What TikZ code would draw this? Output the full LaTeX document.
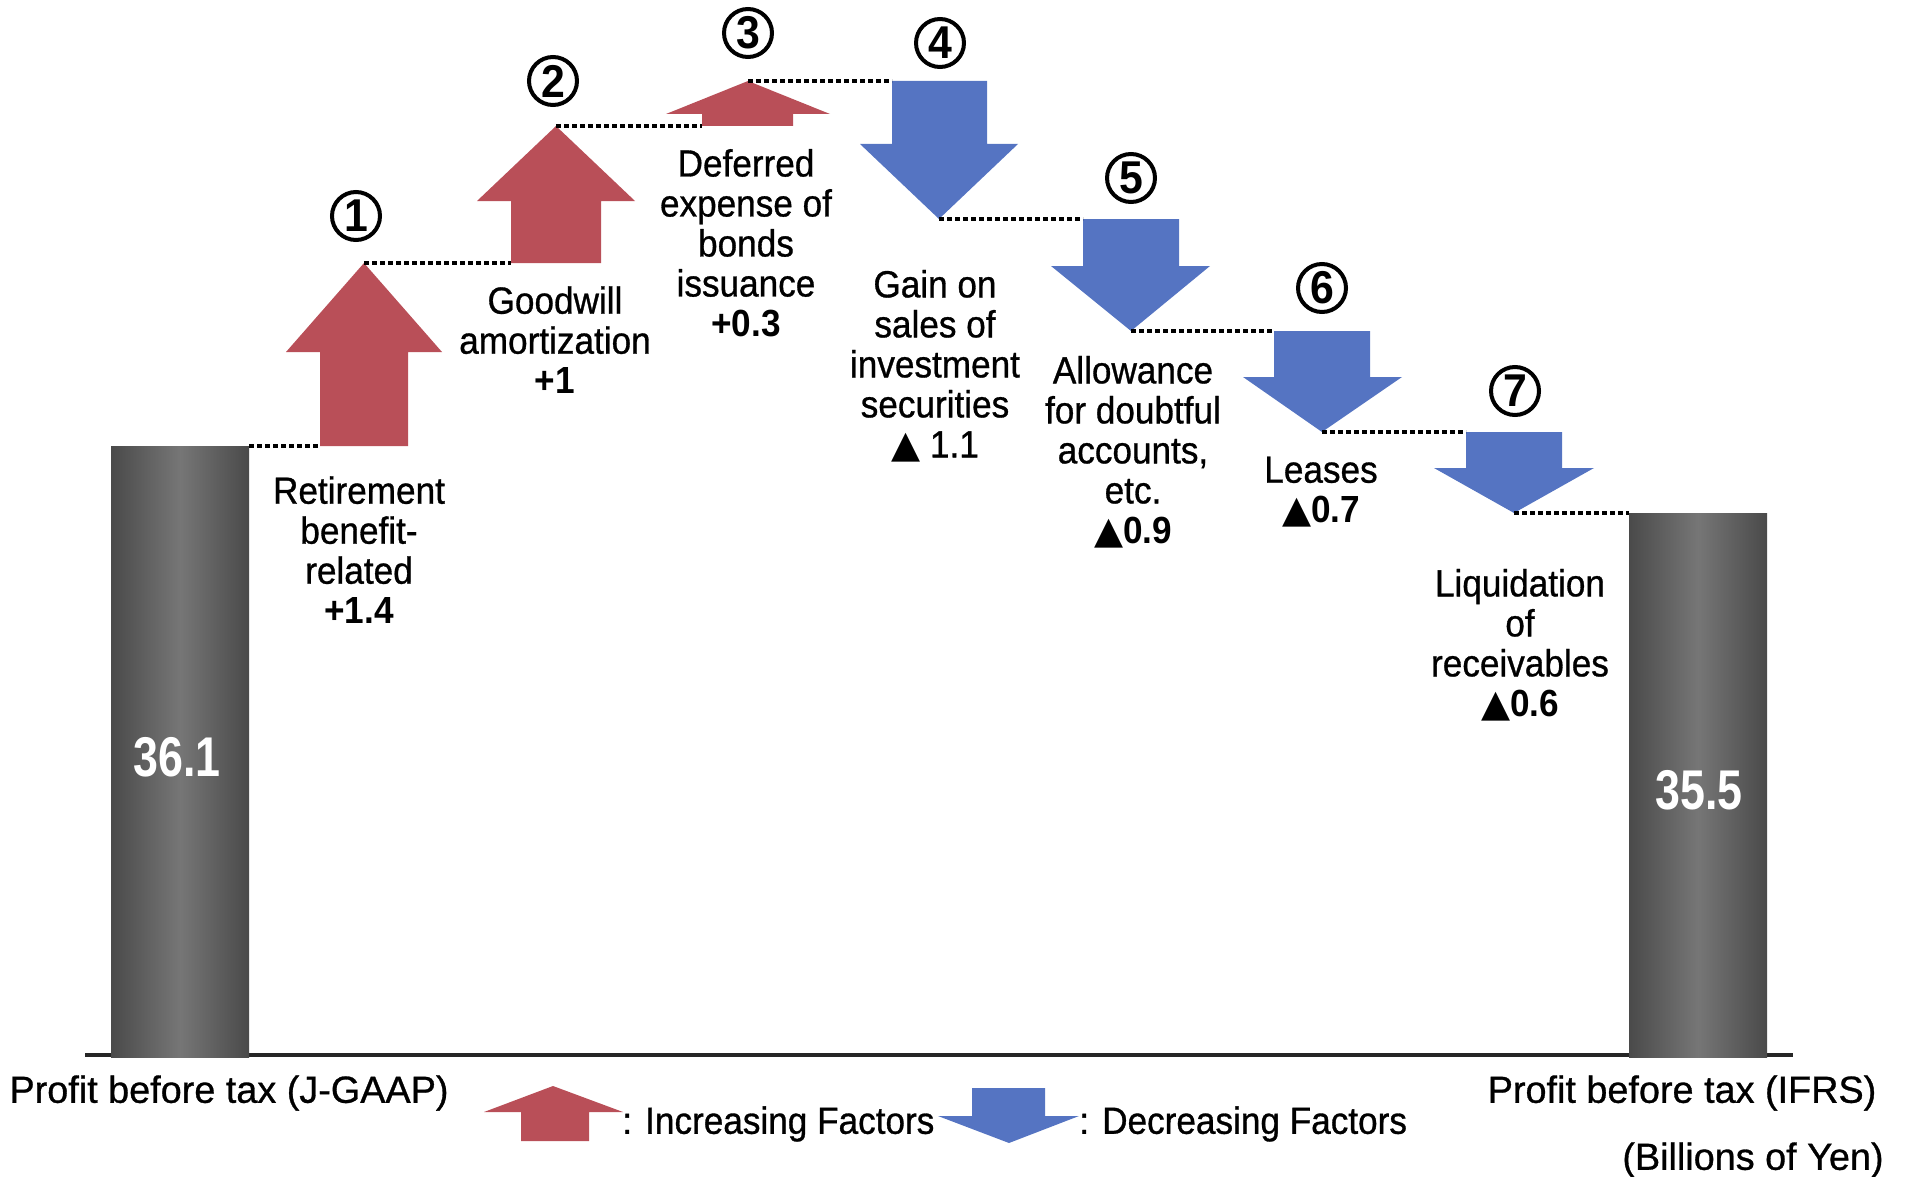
\documentclass[tikz,border=0pt]{standalone}
\usepackage{fontspec}
\setmainfont{Liberation Sans}[FakeStretch=0.93,UprightFeatures={FakeBold=0.8}]
\newfontfamily\barnumfont{Liberation Sans}[FakeStretch=0.8]
\newfontfamily\captionfont{Liberation Sans}[UprightFeatures={FakeBold=0.8}]
\newfontfamily\symfont{DejaVu Sans}
\newcommand{\tri}{{\symfont ▲}}
\usepackage{tikz}

\definecolor{incRed}{RGB}{185,79,88}
\definecolor{decBlue}{RGB}{85,116,194}
\definecolor{barDark}{RGB}{74,74,74}
\definecolor{barLight}{RGB}{118,118,118}
\definecolor{axisGray}{RGB}{38,38,38}

\begin{document}
\begin{tikzpicture}[x=0.5pt,y=0.5pt,yscale=-1,xscale=1,
  incr/.style={fill=incRed,draw=none},
  decr/.style={fill=decBlue,draw=none},
  level/.style={black,line width=1.8pt,dash pattern=on 2.4pt off 1.6pt},
  factor/.style={align=center,inner sep=0pt,font=\fontsize{18.9}{20}\selectfont},
  caption/.style={inner sep=0pt,font=\captionfont\fontsize{18.9}{20}\selectfont},
  stepnum/.style={circle,draw,line width=2pt,minimum size=24pt,inner sep=0pt,font=\bfseries\fontsize{23}{23}\selectfont},
  total/.style={left color=barDark,right color=barDark,middle color=barLight},
  totalnum/.style={text=white,inner sep=0pt,font=\barnumfont\bfseries\fontsize{28}{28}\selectfont}]
\useasboundingbox (0,0) rectangle (1906,1177);

%Axis line
\draw [color=axisGray,line width=2pt] (85,1055) -- (1793,1055) ;

%Bars
\path [total] (111,446) rectangle (249,1057) ;
\coordinate (b1) at (249,446) ;
\path [total] (1629,513) rectangle (1767,1057) ;
\coordinate (b2) at (1629,513) ;
\node [totalnum] (v1) at (177,757) {36.1} ;
\node [totalnum] (v2) at (1699,790) {35.5} ;

%Up Arrows
\draw [incr] (320,446) coordinate (a1) -- (320,352) -- (286,352) -- (364,263) coordinate (t1) -- (442,352) -- (408,352) -- (408,446) -- cycle ;
\draw [incr] (511,263) coordinate (a2) -- (511,201) -- (477,201) -- (556,126) coordinate (t2) -- (635,201) -- (601,201) -- (601,263) -- cycle ;
\draw [incr] (702,126) coordinate (a3) -- (702,114) -- (666,114) -- (748,81) coordinate (t3) -- (830,114) -- (793,114) -- (793,126) -- cycle ;

%Down Arrows
\draw [decr] (892,81) coordinate (a4) -- (892,144) -- (860,144) -- (939,219) coordinate (t4) -- (1018,144) -- (987,144) -- (987,81) -- cycle ;
\draw [decr] (1083,219) coordinate (a5) -- (1083,266) -- (1051,266) -- (1131,331) coordinate (t5) -- (1210,266) -- (1179,266) -- (1179,219) -- cycle ;
\draw [decr] (1274,331) coordinate (a6) -- (1274,377) -- (1243,377) -- (1322,432) coordinate (t6) -- (1402,377) -- (1370,377) -- (1370,331) -- cycle ;
\draw [decr] (1466,432) coordinate (a7) -- (1466,468) -- (1434,468) -- (1514,513) coordinate (t7) -- (1594,468) -- (1562,468) -- (1562,432) -- cycle ;

%Dotted levels
\draw [level] (b1) -- (a1) ;
\draw [level] (t1) -- (a2) ;
\draw [level] (t2) -- (a3) ;
\draw [level] (t3) -- (a4) ;
\draw [level] (t4) -- (a5) ;
\draw [level] (t5) -- (a6) ;
\draw [level] (t6) -- (a7) ;
\draw [level] (t7) -- (b2) ;

%Step numbers
\node [stepnum] (c1) at (356,216) {1} ;
\node [stepnum] (c2) at (553,81) {2} ;
\node [stepnum] (c3) at (748,33) {3} ;
\node [stepnum] (c4) at (940,43) {4} ;
\node [stepnum] (c5) at (1131,178) {5} ;
\node [stepnum] (c6) at (1322,288) {6} ;
\node [stepnum] (c7) at (1515,391) {7} ;

%Factor labels
\node [factor] (f1) at (359,550) {Retirement\\benefit-\\related\\\textbf{+1.4}} ;
\node [factor] (f2) at (555,340) {Goodwill\\amortization\\\textbf{+1}} ;
\node [factor] (f3) at (746,243) {Deferred\\expense of\\bonds\\issuance\\\textbf{+0.3}} ;
\node [factor] (f4) at (935,366) {Gain on\\sales of\\investment\\securities\\\tri\ 1.1} ;
\node [factor] (f5) at (1133,452) {Allowance\\for doubtful\\accounts,\\etc.\\\tri\textbf{0.9}} ;
\node [factor] (f6) at (1321,492) {Leases\\\tri\textbf{0.7}} ;
\node [factor] (f7) at (1520,645) {Liquidation\\of\\receivables\\\tri\textbf{0.6}} ;

%Bottom captions
\node [caption] (gaap) at (229,1093) {Profit before tax (J-GAAP)} ;
\node [caption] (ifrs) at (1682,1093) {Profit before tax (IFRS)} ;
\node [caption,anchor=east] (unit) at (1884,1160) {(Billions of Yen)} ;

%Legend
\draw [incr] (521,1141) -- (521,1112) -- (484,1112) -- (553,1086) -- (623,1112) -- (589,1112) -- (589,1141) -- cycle ;
\node [factor,anchor=west] (leginc) at (622,1124) {: Increasing Factors} ;
\draw [decr] (972,1088) -- (972,1116) -- (938,1116) -- (1009,1143) -- (1079,1116) -- (1045,1116) -- (1045,1088) -- cycle ;
\node [factor,anchor=west] (legdec) at (1079,1124) {: Decreasing Factors} ;

\end{tikzpicture}
\end{document}
